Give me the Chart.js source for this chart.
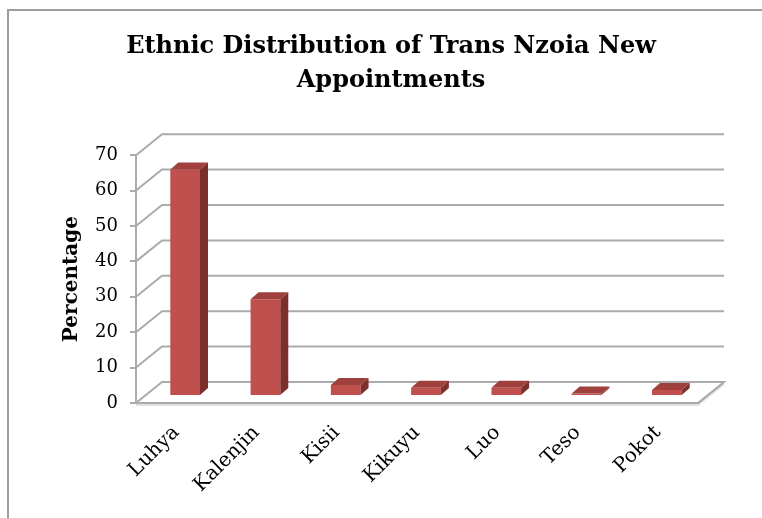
<!DOCTYPE html>
<html>
<head>
<meta charset="utf-8">
<script src="https://cdn.jsdelivr.net/npm/chart.js@4"></script>
<style>
  html, body { margin: 0; padding: 0; background: #fff; }
  #wrap { width: 762px; height: 518px; }
</style>
</head>
<body>
<div id="wrap"><canvas id="chart" width="762" height="518"></canvas></div>
<script>
(function() {
    'use strict';

    // ===== DATA =====
    const groups = ['Luhya', 'Kalenjin', 'Kisii', 'Kikuyu', 'Luo', 'Teso', 'Pokot'];
    const percentages = [64, 27.3, 3.1, 2.3, 2.3, 0.7, 1.7];
    const yTicks = [0, 10, 20, 30, 40, 50, 60, 70];

    // depth of the "room" and of each bar (pixels)
    const DEPTH_X = 26, DEPTH_Y = -21;
    const BAR_SHIFT_X = 9, BAR_SHIFT_Y = -7;
    const BAR_DX = 8, BAR_DY = -7;
    const WALL = '#ababab';

    const serif = "'DejaVu Serif', 'Liberation Serif', serif";

    // ===== 3D WALLS + BAR FACES =====
    const box3d = {
        id: 'box3d',
        beforeDraw(chart) {
            const ctx = chart.ctx;
            ctx.save();
            ctx.strokeStyle = '#9c9c9c';
            ctx.lineWidth = 2;
            ctx.strokeRect(8, 10, 900, 700);
            ctx.restore();
        },
        beforeDatasetsDraw(chart) {
            const ctx = chart.ctx;
            const a = chart.chartArea;
            const y = chart.scales.y;
            ctx.save();
            ctx.lineWidth = 2;
            ctx.strokeStyle = WALL;
            // floor
            const y0 = y.getPixelForValue(0);
            ctx.beginPath();
            ctx.moveTo(a.left, y0);
            ctx.lineTo(a.right, y0);
            ctx.lineTo(a.right + DEPTH_X, y0 + DEPTH_Y);
            ctx.lineTo(a.left + DEPTH_X, y0 + DEPTH_Y);
            ctx.closePath();
            ctx.stroke();
            // side wall + back wall grid lines
            yTicks.forEach(v => {
                if (v === 0) return;
                const py = y.getPixelForValue(v);
                ctx.beginPath();
                ctx.moveTo(a.left, py);
                ctx.lineTo(a.left + DEPTH_X, py + DEPTH_Y);
                ctx.lineTo(a.right + DEPTH_X, py + DEPTH_Y);
                ctx.stroke();
            });
            // front edge shadow of floor
            ctx.strokeStyle = 'rgba(0,0,0,0.12)';
            ctx.beginPath();
            ctx.moveTo(a.left, y0 + 2);
            ctx.lineTo(a.right, y0 + 2);
            ctx.lineTo(a.right + DEPTH_X, y0 + DEPTH_Y + 2);
            ctx.stroke();
            ctx.restore();

            ctx.save();
            ctx.translate(BAR_SHIFT_X, BAR_SHIFT_Y);
        },
        afterDatasetsDraw(chart) {
            const ctx = chart.ctx;
            chart.getDatasetMeta(0).data.forEach(bar => {
                const p = bar.getProps(['x', 'y', 'base', 'width'], true);
                const l = p.x - p.width / 2, r = p.x + p.width / 2;
                // top face
                ctx.fillStyle = '#a0403d';
                ctx.beginPath();
                ctx.moveTo(l, p.y);
                ctx.lineTo(r, p.y);
                ctx.lineTo(r + BAR_DX, p.y + BAR_DY);
                ctx.lineTo(l + BAR_DX, p.y + BAR_DY);
                ctx.closePath();
                ctx.fill();
                // side face
                ctx.fillStyle = '#7c302e';
                ctx.beginPath();
                ctx.moveTo(r, p.y);
                ctx.lineTo(r + BAR_DX, p.y + BAR_DY);
                ctx.lineTo(r + BAR_DX, p.base + BAR_DY);
                ctx.lineTo(r, p.base);
                ctx.closePath();
                ctx.fill();
            });
            ctx.restore();
        }
    };

    // ===== CHART =====
    const ctx = document.getElementById('chart').getContext('2d');
    new Chart(ctx, {
        type: 'bar',
        data: {
            labels: groups,
            datasets: [{
                label: 'Percentage',
                data: percentages,
                backgroundColor: '#c0504d',
                borderWidth: 0,
                barPercentage: 0.37,
                categoryPercentage: 1,
                clip: false,
                yAxisID: 'y'
            }]
        },
        plugins: [box3d],
        options: {
            responsive: false,
            animation: false,
            layout: { padding: { left: 60, right: 40, top: 0, bottom: 0 } },
            plugins: {
                legend: { display: false },
                tooltip: { enabled: false },
                title: {
                    display: true,
                    text: ['Ethnic Distribution of Trans Nzoia New', 'Appointments'],
                    color: '#000',
                    font: { family: serif, size: 24, weight: 'bold', lineHeight: 1.42 },
                    padding: { top: 30, bottom: 57 }
                }
            },
            scales: {
                y: {
                    min: 0,
                    max: 70,
                    afterBuildTicks: s => { s.ticks = yTicks.map(v => ({ value: v })); },
                    afterFit: s => { s.width = 76; },
                    border: { display: true, color: WALL, width: 2 },
                    grid: { drawOnChartArea: false, tickLength: 6, color: WALL, lineWidth: 2 },
                    ticks: { color: '#000', padding: 12, font: { family: serif, size: 18 } },
                    title: {
                        display: true,
                        text: 'Percentage',
                        color: '#000',
                        padding: 0,
                        font: { family: serif, size: 20, weight: 'bold' }
                    }
                },
                // empty right-hand strip, keeps room for the back wall depth
                yRight: {
                    type: 'linear',
                    position: 'right',
                    min: 0,
                    max: 70,
                    afterFit: s => { s.width = 24; },
                    border: { display: false },
                    grid: { display: false },
                    ticks: { display: false }
                },
                x: {
                    afterFit: s => { s.height = 115; },
                    border: { display: false },
                    grid: { display: false },
                    ticks: {
                        color: '#000',
                        maxRotation: 45,
                        minRotation: 45,
                        autoSkip: false,
                        padding: 10,
                        font: { family: serif, size: 20 }
                    }
                }
            }
        }
    });
})();
</script>
</body>
</html>
